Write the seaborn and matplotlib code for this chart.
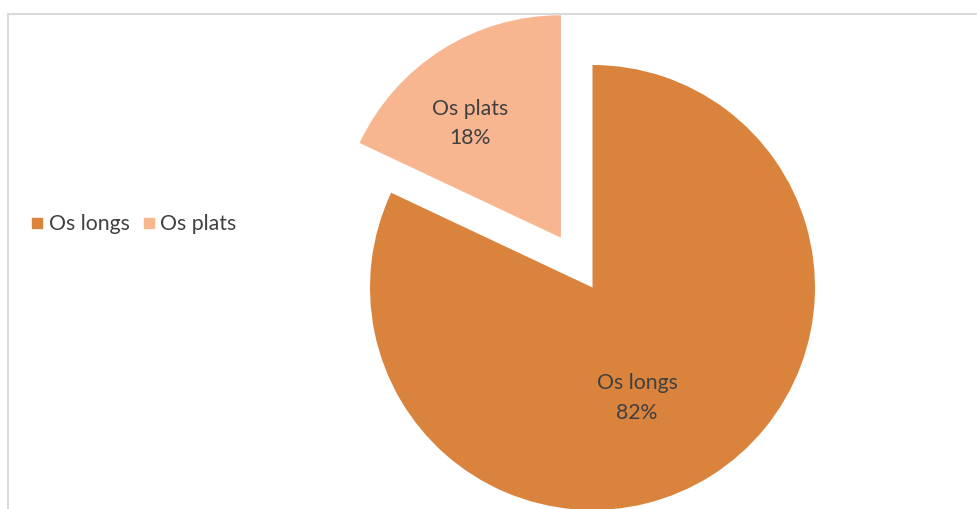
import numpy as np
import matplotlib
matplotlib.use("Agg")
import matplotlib.pyplot as plt
import seaborn as sns
from matplotlib.lines import Line2D

categories = ["Os longs", "Os plats"]
values = [82, 18]
colors = ["#DA833C", "#F8B690"]
explode = [0, 0.265]

sns.set_theme(style="white")
plt.rcParams['font.family'] = ['Lato', 'DejaVu Sans']

fig = plt.figure(figsize=(9.77, 5.09), dpi=100)
ax = fig.add_axes([0, 0, 1, 1])
wedges, _ = ax.pie(values, colors=colors, explode=explode, startangle=90,
                   counterclock=False, radius=1.0,
                   wedgeprops=dict(linewidth=0))
ax.set_aspect('auto')
R = 222.5
ax.set_xlim(-592.5 / R, (977 - 592.5) / R)
ax.set_ylim(-221.5 / R, (509 - 221.5) / R)
ax.axis('off')

total = sum(values)
label_spec = {"Os longs": (0.535, -68), "Os plats": (0.655, 128.5)}
for w, cat, v in zip(wedges, categories, values):
    cx, cy = w.center
    d, ang = label_spec[cat]
    x = cx + d * np.cos(np.radians(ang))
    y = cy + d * np.sin(np.radians(ang))
    ax.text(x, y, f"{cat}\n{round(100 * v / total)}%", ha='center', va='center',
            fontsize=15.3, color='#404040', linespacing=1.6)

handles = [Line2D([], [], marker='s', linestyle='none', markersize=7,
                  markerfacecolor=c, markeredgecolor=c) for c in colors]
fig.legend(handles, categories, loc='center left', bbox_to_anchor=(20 / 977, 1 - 224 / 509),
           ncol=2, frameon=False, fontsize=15.3, labelcolor='#404040',
           handletextpad=0.25, columnspacing=0.6, handlelength=0.6, borderpad=0)

# chart frame
fig.add_artist(Line2D([8 / 977, 8 / 977], [0, 1 - 13.5 / 509], transform=fig.transFigure,
                      color='#D9D9D9', linewidth=1.5))
fig.add_artist(Line2D([8 / 977, 976 / 977], [1 - 13.5 / 509, 1 - 13.5 / 509], transform=fig.transFigure,
                      color='#D9D9D9', linewidth=1.5))

fig.savefig("out.png", dpi=100, facecolor='white')
